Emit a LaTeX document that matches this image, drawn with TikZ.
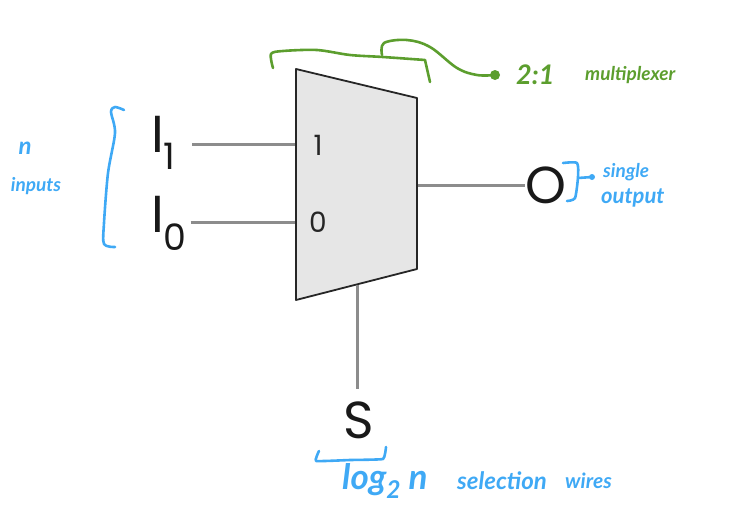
\documentclass[tikz,border=0pt]{standalone}
\usepackage{fontspec}
\setmainfont{Poppins}
\newfontfamily\handfont{Lato}
\usetikzlibrary{%
  calc,%
  positioning%
}
\definecolor{penblue}{HTML}{3FA9F5}
\definecolor{pengreen}{HTML}{5C9E2E}
\definecolor{muxfill}{HTML}{E6E6E6}
\definecolor{wiregray}{HTML}{8C8C8C}

\begin{document}
\begin{tikzpicture}[
    x=1pt,y=-1pt,
    line join=round,line cap=round,
    muxbody/.style={draw=black!85,fill=muxfill,line width=1.8pt},
    wire/.style={draw=wiregray,line width=3pt,line cap=butt},
    pinname/.style={font=\fontsize{52}{52}\selectfont,text=black!90,inner sep=0pt},
    muxpin/.style={font=\fontsize{28}{28}\selectfont,text=black!85,inner sep=0pt},
    bluepen/.style={draw=penblue,line width=2.6pt},
    greenpen/.style={draw=pengreen,line width=2.6pt},
    hand/.style 2 args={text=#1,inner sep=0pt,font=\handfont\bfseries\itshape\fontsize{#2}{#2}\selectfont}
  ]
    \useasboundingbox (0,0) rectangle (730,517);

    % mux body
    \coordinate (muxa) at (296,69);
    \coordinate (muxb) at (417,98);
    \coordinate (muxc) at (417,269);
    \coordinate (muxd) at (296,300);
    \coordinate (pin1) at (296,144);
    \coordinate (pin0) at (296,222);
    \coordinate (pinout) at (417,185);
    \coordinate (pinsel) at (357,285);

    \node (in1)  [pinname,anchor=base west] at (151,152) {I\textsubscript{1}};
    \node (in0)  [pinname,anchor=base west] at (151,232) {I\textsubscript{0}};
    \node (out)  [pinname] at (546,185) {O};
    \node (sel)  [pinname] at (359,420) {S};

    \draw[wire] (in1.east |- pin1) ++(16,0) -- (pin1);
    \draw[wire] (in0.east |- pin0) ++(3,0) -- (pin0);
    \draw[wire] (pinout) -- (out.west |- pinout);
    \draw[muxbody] (muxa) -- (muxb) -- (muxc) -- (muxd) -- cycle;
    \draw[wire] (pinsel) -- ($(pinsel |- sel.north)+(0,-12)$);

    \node (mux1) [muxpin] at (318,145) {1};
    \node (mux0) [muxpin] at (318,222) {0};

    % green notes
    \draw[greenpen] plot[smooth,tension=0.5] coordinates {(273,68) (271,54) (283,51) (317,50) (350,55) (383,57) (425,60)}
        -- (430,82);
    \draw[greenpen] plot[smooth,tension=0.6] coordinates {(382,55) (384,43) (407,40) (430,47) (457,68) (477,75) (495,75)};
    \fill[pengreen] (495,75) circle (5);
    \node (muxtype) [hand={pengreen}{27},anchor=west] at (516,75) {2:1};
    \node (muxname) [hand={pengreen}{19},anchor=west] at (585,75) {multiplexer};

    % blue notes
    \draw[bluepen] plot[smooth,tension=0.5] coordinates {(124,110) (115,107) (111,112) (115,133) (108,173) (104,223) (104,244) (115,247)};
    \node (ncount) [hand={penblue}{24}] at (25,148) {n};
    \node (nlabel) [hand={penblue}{19}] at (36,186) {inputs};

    \draw[bluepen] plot[smooth,tension=0.4] coordinates {(563,163) (577,163) (578,177) (575,198) (567,201)};
    \draw[bluepen] (578,178) -- (592,177);
    \fill[penblue] (592,177) circle (3);
    \node (single) [hand={penblue}{19},anchor=west] at (603,172) {single};
    \node (output) [hand={penblue}{22},anchor=west] at (601,198) {output};

    \draw[bluepen] plot[smooth,tension=0.2] coordinates {(319,451) (316,461) (350,460) (383,459) (386,447)};
    \node (logn)  [hand={penblue}{35},anchor=west] at (342,481) {log\textsubscript{2} n};
    \node (selw)  [hand={penblue}{24},anchor=west] at (457,481) {selection};
    \node (wires) [hand={penblue}{21},anchor=west] at (565,481) {wires};
\end{tikzpicture}
\end{document}
